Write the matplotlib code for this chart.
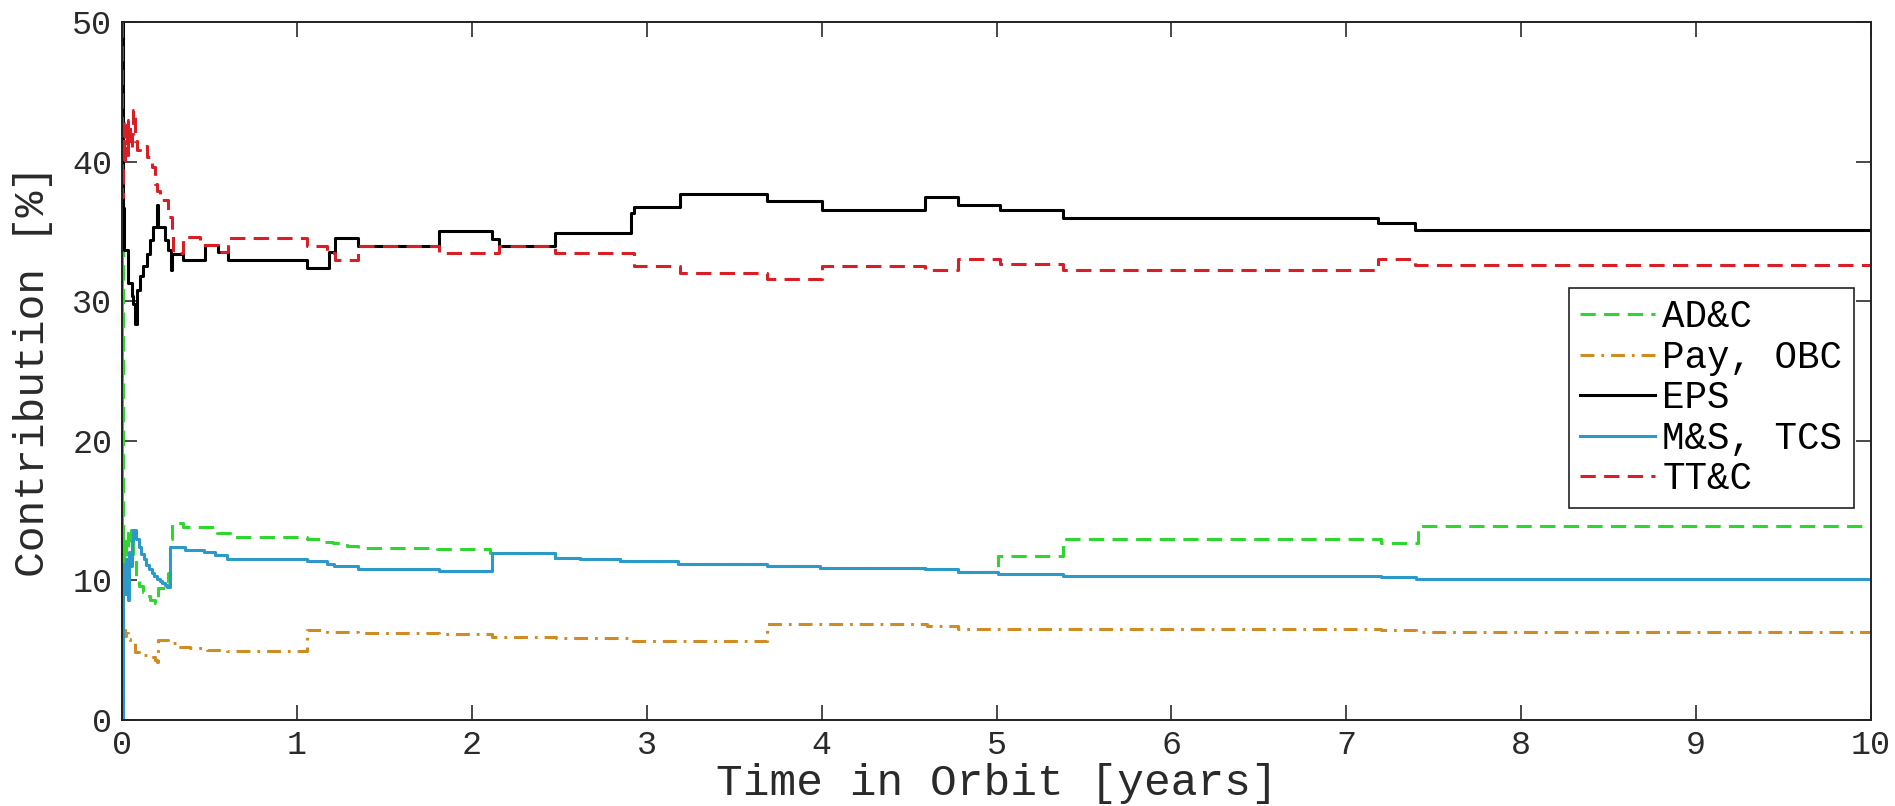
import numpy as np
import matplotlib
matplotlib.use("Agg")
import matplotlib.pyplot as plt

plt.rcParams['font.family'] = ['Liberation Mono', 'DejaVu Sans Mono']
plt.rcParams['lines.scale_dashes'] = False

# ---------------- data (years, %) -------------------------------------
t_adc = [0, 0.002, 0.005, 0.01, 0.017, 0.025, 0.036, 0.05, 0.065, 0.08, 0.1, 0.122,
         0.14, 0.16, 0.19, 0.208, 0.25, 0.265, 0.275, 0.284, 0.351, 0.542, 0.618,
         1.057, 1.133, 1.209, 1.285, 1.352, 1.80, 2.105, 2.478, 2.62, 2.85, 3.18,
         3.69, 3.99, 4.59, 4.78, 5.01, 5.38, 7.20, 7.41, 10.0]
v_adc = [0, 34, 11, 13, 11.5, 13.4, 12.4, 13.6, 11.5, 10.0, 9.6, 9.2,
         8.9, 8.6, 8.36, 9.45, 9.8, 10.5, 13.0, 14.13, 13.85, 13.42, 13.13,
         12.94, 12.77, 12.66, 12.46, 12.35, 12.23, 11.94, 11.63, 11.51, 11.39, 11.15,
         11.03, 10.91, 10.79, 10.58, 11.75, 12.94, 12.65, 13.9, 13.9]

t_pay = [0, 0.003, 0.008, 0.012, 0.017, 0.025, 0.035, 0.046, 0.074, 0.1, 0.122,
         0.16, 0.19, 0.2, 0.208, 0.265, 0.313, 0.389, 0.485, 0.599, 1.057, 1.171,
         1.352, 1.81, 2.115, 2.48, 2.92, 3.69, 4.6, 4.78, 7.2, 7.4, 10.0]
v_pay = [2.0, 6.7, 5.9, 6.6, 6.0, 6.2, 5.8, 5.49, 4.9, 4.75, 4.66,
         4.54, 4.3, 4.18, 5.73, 5.49, 5.25, 5.13, 5.01, 4.97, 6.45, 6.33,
         6.21, 6.15, 5.97, 5.85, 5.68, 6.88, 6.72, 6.55, 6.45, 6.3, 6.3]

t_eps = [0, 0.003, 0.011, 0.036, 0.055, 0.065, 0.074, 0.084, 0.103, 0.122, 0.141,
         0.16, 0.179, 0.198, 0.203, 0.246, 0.265, 0.28, 0.286, 0.351, 0.475, 0.551,
         0.608, 1.057, 1.181, 1.219, 1.352, 1.81, 2.115, 2.153, 2.477, 2.91, 2.925,
         3.192, 3.688, 4.0, 4.589, 4.78, 5.018, 5.38, 7.18, 7.39, 10.0]
v_eps = [50, 36.7, 33.7, 31.3, 30.4, 29.8, 28.4, 30.8, 31.8, 32.5, 33.4,
         34.4, 35.3, 36.9, 35.3, 34.4, 33.7, 32.2, 33.4, 32.95, 34.0, 33.55,
         32.95, 32.4, 33.55, 34.55, 33.95, 35.05, 34.43, 33.95, 34.91, 36.3, 36.77,
         37.66, 37.18, 36.5, 37.45, 36.9, 36.5, 35.95, 35.6, 35.1, 35.1]

t_ms = [0, 0.003, 0.008, 0.012, 0.018, 0.024, 0.03, 0.036, 0.042, 0.05, 0.058,
        0.065, 0.08, 0.095, 0.11, 0.125, 0.14, 0.155, 0.17, 0.185, 0.2, 0.215,
        0.23, 0.245, 0.26, 0.275, 0.36, 0.47, 0.53, 0.6, 1.057, 1.171, 1.21,
        1.352, 1.81, 2.115, 2.478, 2.62, 2.85, 3.18, 3.69, 3.99, 4.59, 4.78,
        5.01, 5.38, 7.2, 7.4, 10.0]
v_ms = [0, 7.2, 10.5, 11.2, 9.0, 11.5, 10.5, 8.6, 12.0, 11.0, 12.8,
        13.6, 13.0, 12.4, 11.9, 11.5, 11.1, 10.8, 10.5, 10.3, 10.1, 9.95,
        9.8, 9.65, 9.55, 12.37, 12.15, 12.0, 11.8, 11.5, 11.38, 11.18, 11.0,
        10.85, 10.65, 11.94, 11.63, 11.51, 11.39, 11.15, 11.03, 10.91, 10.79, 10.58,
        10.46, 10.34, 10.22, 10.08, 10.08]

t_ttc = [0, 0.002, 0.006, 0.012, 0.02, 0.028, 0.036, 0.045, 0.055, 0.064, 0.075,
         0.085, 0.103, 0.141, 0.17, 0.189, 0.2, 0.217, 0.265, 0.284, 0.294, 0.351,
         0.446, 0.551, 0.608, 1.057, 1.171, 1.219, 1.352, 1.81, 2.153, 2.477, 2.925,
         3.192, 3.688, 4.0, 4.589, 4.78, 5.018, 5.38, 7.18, 7.39, 10.0]
v_ttc = [50, 37.5, 42.5, 40.0, 42.8, 40.5, 43.0, 41.0, 42.0, 43.7, 41.5,
         40.8, 41.1, 40.3, 39.6, 38.4, 37.9, 37.25, 36.05, 34.86, 33.43, 34.57,
         34.0, 33.55, 34.5, 33.95, 33.43, 32.95, 33.95, 33.48, 33.95, 33.48, 32.52,
         32.04, 31.57, 32.5, 32.2, 33.0, 32.7, 32.2, 33.0, 32.6, 32.6]

labels = ['AD&C', 'Pay, OBC', 'EPS', 'M&S, TCS', 'TT&C']
xticks = np.arange(0, 11, 1)
yticks = np.arange(0, 51, 10)

# ---------------- figure -----------------
fig = plt.figure(figsize=(18.95, 8.06), dpi=100)
ax = fig.add_axes([0.06438, 0.10670, 0.92296, 0.86600])

lw = 2.2
ax.plot(t_adc, v_adc, drawstyle='steps-post', color='#2fd62f', lw=lw,
        dashes=(11, 6), label=labels[0])
ax.plot(t_pay, v_pay, drawstyle='steps-post', color='#cf8c24', lw=lw,
        dashes=(10, 5, 2, 5), label=labels[1])
ax.plot(t_eps, v_eps, drawstyle='steps-post', color='black', lw=lw, label=labels[2])
ax.plot(t_ms, v_ms, drawstyle='steps-post', color='#2b9acb', lw=lw, label=labels[3])
ax.plot(t_ttc, v_ttc, drawstyle='steps-post', color='#d81f26', lw=lw,
        dashes=(11, 6), label=labels[4])

ax.set_xlim(0, 10)
ax.set_ylim(0, 50)
ax.set_xticks(xticks)
ax.set_yticks(yticks)
ax.tick_params(direction='in', top=True, right=True, length=11, width=1.2,
               labelsize=24, pad=7, colors='#2a2a2a')
for s in ax.spines.values():
    s.set_linewidth(1.4)
    s.set_color('#222222')

ax.set_xlabel('Time in Orbit [years]', fontsize=32, color='#2a2a2a', va='top')
ax.xaxis.set_label_coords(0.5, -0.062)
ax.set_ylabel('Contribution [%]', fontsize=31, color='#2a2a2a', va='center')
ax.yaxis.set_label_coords(-0.051, 0.5)

leg = ax.legend(loc='upper right', bbox_to_anchor=(0.990, 0.619), borderaxespad=0,
                fontsize=27, handlelength=2.0, handletextpad=0.2, labelspacing=0.12,
                borderpad=0.3, fancybox=False, framealpha=1, edgecolor='#222222')
leg.get_frame().set_linewidth(1.2)

fig.savefig('out.png', dpi=100)
